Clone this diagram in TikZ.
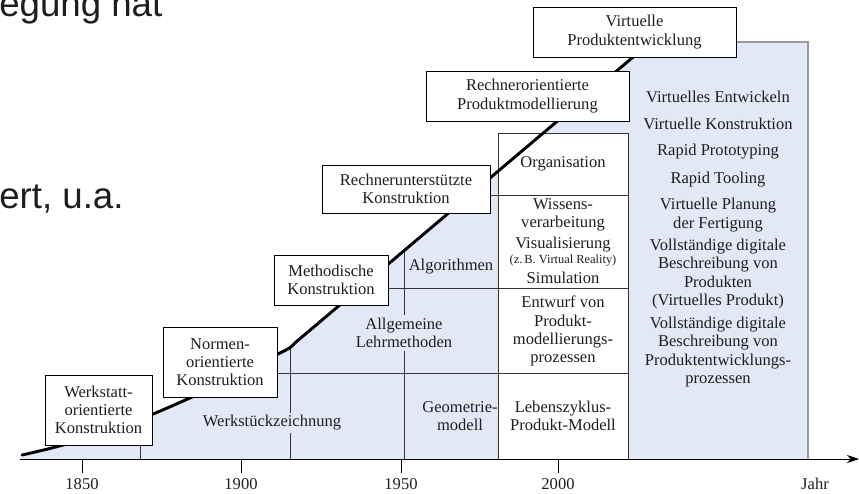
\documentclass[tikz,border=0pt]{standalone}
\usepackage{fontspec}
\setmainfont{Liberation Serif}
\newfontfamily\slidefont{Liberation Sans}
\usepackage{xcolor}
\usepackage{tikz}
\usetikzlibrary{arrows.meta}

\definecolor{areablue}{HTML}{E3E8F7}
\definecolor{txtgray}{HTML}{1E1E1E}
\definecolor{rimgray}{HTML}{9A9A9A}

\begin{document}
\begin{tikzpicture}[
    x=0.75pt, y=-0.75pt,
    font=\fontsize{12.4}{13.6}\selectfont,
    text=txtgray,
    phase/.style={draw, fill=white, line width=0.7pt, align=center, inner sep=1pt},
    cell/.style={align=center, inner sep=1pt},
    tag/.style={align=center, inner sep=2pt, fill=areablue},
    grid/.style={draw=black!80, line width=0.6pt},
    trend/.style={line width=2.2pt, line cap=round},
    axis/.style={-{Stealth[length=9pt, width=6pt]}, line width=0.7pt},
    yearlab/.style={font=\fontsize{12.4}{13}\selectfont}
]
\useasboundingbox (0,0) rectangle (859,493);

% slide text cut at the margin
\node[anchor=base west, inner sep=0pt, font=\slidefont\fontsize{27.5}{30}\selectfont]
    (slideA) at (-1,16) {egung hat};
\node[anchor=base west, inner sep=0pt, font=\slidefont\fontsize{27.5}{30}\selectfont]
    (slideB) at (-1,208) {ert, u.a.};

% points of the trend line
\coordinate (t0) at (22,455);
\coordinate (t1) at (192,397);
\coordinate (t2) at (284,351);
\coordinate (t3) at (296,342);
\coordinate (t4) at (628,61);
\coordinate (t5) at (645,47);

% shaded area under the trend line
\fill[areablue] (20,459) -- (t0) .. controls (90,440) and (130,425) .. (t1) -- (t2)
    .. controls (290,348) .. (t3) -- (t4) -- (628,42) -- (808,42) -- (808,459) -- cycle;
\draw[rimgray, line width=1.6pt] (628,42) -- (808,42) -- (808,459);

% lines inside the area
\draw[grid] (140,445) -- (140,459);
\draw[grid] (290,347) -- (290,459);
\draw[grid] (404,250) -- (404,459);
\draw[grid] (277,373) -- (498,373);
\draw[grid] (388,288) -- (498,288);

% column of the computer based methods
\draw[grid, fill=white] (498,133) rectangle (628,459);
\draw[grid] (490,195) -- (628,195);
\draw[grid] (498,288) -- (628,288);
\draw[grid] (498,373) -- (628,373);

\node[cell] (orga) at (563,164) {Organisation};
\node[cell] (wissen) at (563,241) {Wissens-\\verarbeitung\\[2pt]Visualisierung\\[-2pt]
    {\fontsize{9.3}{10}\selectfont(z.\,B. Virtual Reality)}\\[1pt]Simulation};
\node[cell] (entwurf) at (563,331) {Entwurf von\\Produkt-\\modellierungs-\\prozessen};
\node[cell] (zyklus) at (563,416) {Lebenszyklus-\\Produkt-Modell};

% labels in the shaded area
\node[tag] (werkst) at (272,423) {Werkstückzeichnung};
\node[tag] (lehr) at (404,333) {Allgemeine\\Lehrmethoden};
\node[cell] (algo) at (451,267) {Algorithmen};
\node[cell] (geo) at (460,416) {Geometrie-\\modell};

% right panel
\node[cell] (virtent) at (718,97) {Virtuelles Entwickeln};
\node[cell] (virtkon) at (718,124) {Virtuelle Konstruktion};
\node[cell] (proto) at (718,152) {Rapid Prototyping};
\node[cell] (tool) at (718,180) {Rapid Tooling};
\node[cell] (planung) at (718,215) {Virtuelle Planung\\der Fertigung};
\node[cell] (produkt) at (718,274) {Vollständige digitale\\Beschreibung von\\Produkten\\(Virtuelles Produkt)};
\node[cell] (prozess) at (718,352) {Vollständige digitale\\Beschreibung von\\Produktentwicklungs-\\prozessen};

% trend line
\draw[trend] (t0) .. controls (90,440) and (130,425) .. (t1) -- (t2)
    .. controls (290,348) .. (t3) -- (t5);

% phases
\node[phase, minimum width=80.25pt, minimum height=52.5pt] (werkstatt) at (98.5,410)
    {Werkstatt-\\orientierte\\Konstruktion};
\node[phase, minimum width=85.5pt, minimum height=52.5pt] (normen) at (220,362)
    {Normen-\\orientierte\\Konstruktion};
\node[phase, minimum width=85.5pt, minimum height=37.5pt] (method) at (331,280)
    {Methodische\\Konstruktion};
\node[phase, minimum width=126pt, minimum height=36pt] (cad) at (406,189)
    {Rechnerunterstützte\\Konstruktion};
\node[phase, minimum width=152.25pt, minimum height=37.5pt] (prodmod) at (527.5,96)
    {Rechnerorientierte\\Produktmodellierung};
\node[phase, minimum width=152.25pt, minimum height=37.5pt] (virtprod) at (634.5,32)
    {Virtuelle\\Produktentwicklung};

% time axis
\coordinate (ax0) at (20,459);
\coordinate (ax1) at (859,459);
\draw[axis] (ax0) -- (ax1);
\foreach \xx/\yr in {82/1850, 241/1900, 401/1950, 558/2000}{
  \draw[line width=0.7pt] (\xx,459) -- (\xx,473);
  \node[yearlab] (y\yr) at (\xx,484) {\yr};
}
\node[yearlab] (jahr) at (815,484) {Jahr};

\end{tikzpicture}
\end{document}
